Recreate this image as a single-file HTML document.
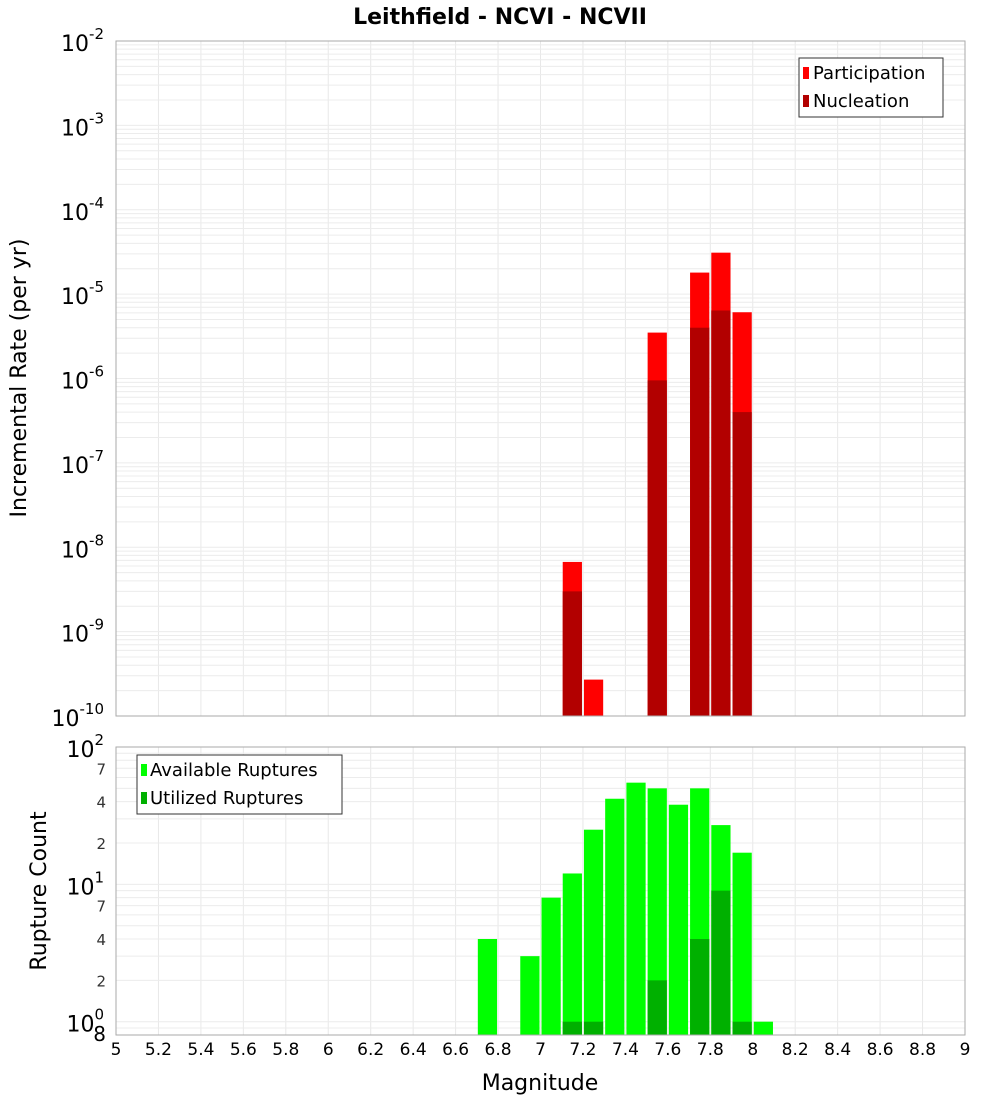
<!DOCTYPE html>
<html><head><meta charset="utf-8"><style>
body{margin:0;background:#fff;}
svg text{font-family:"DejaVu Sans","Liberation Sans",sans-serif;}
</style></head><body>
<svg id="c" xmlns="http://www.w3.org/2000/svg" width="1000" height="1100" viewBox="0 0 1000 1100"></svg>
<script>
const partMags=[7.1,7.2,7.5,7.7,7.8,7.9];
const partVals=[6.7e-9,2.7e-10,3.5e-6,1.8e-5,3.1e-5,6.1e-6];
const nuclMags=[7.1,7.5,7.7,7.8,7.9];
const nuclVals=[3e-9,9.5e-7,4e-6,6.4e-6,4e-7];
const availMags=[6.7,6.9,7.0,7.1,7.2,7.3,7.4,7.5,7.6,7.7,7.8,7.9,8.0];
const availVals=[4,3,8,12,25,42,55,50,38,50,27,17,1];
const utilMags=[7.1,7.2,7.5,7.7,7.8,7.9];
const utilVals=[1,1,2,4,9,1];
const xTicks=[5,5.2,5.4,5.6,5.8,6,6.2,6.4,6.6,6.8,7,7.2,7.4,7.6,7.8,8,8.2,8.4,8.6,8.8,9];

const svg=document.getElementById('c');
const NS='http://www.w3.org/2000/svg';
function el(t,a,p){const e=document.createElementNS(NS,t);for(const k in a)e.setAttribute(k,a[k]);(p||svg).appendChild(e);return e;}
const L=116,R=965;
const x=m=>L+(m-5)/4*(R-L);
const T1=41,B1=716;const y1=v=>T1+(-2-Math.log10(v))/8*(B1-T1);
const T2=747,B2=1035;const lo2=Math.log10(0.8);const y2=v=>T2+(2-Math.log10(v))/(2-lo2)*(B2-T2);

function grid(T,B,yf,lo,hi){
  for(const t of xTicks){const g=el('line',{x1:x(t),x2:x(t),y1:T,y2:B,stroke:'#e8e8e8'});}
  for(let d=lo;d<hi;d++)for(let k=1;k<10;k++){const v=k*Math.pow(10,d);const yy=yf(v);if(yy<T-0.5||yy>B+0.5)continue;
    const g=el('line',{x1:L,x2:R,y1:yy,y2:yy,stroke:'#ececec'});}
}
grid(T1,B1,y1,-10,-2);
grid(T2,B2,y2,-1,2);

function bars(mags,vals,yf,B,color,name){
  mags.forEach((m,i)=>{const yy=yf(vals[i]);const r=el('rect',{x:x(m)+1,y:yy,width:x(m+0.1)-x(m)-2,height:B-yy,fill:color});
    });
}
bars(partMags,partVals,y1,B1,'#ff0000','participation-bar');
bars(nuclMags,nuclVals,y1,B1,'#b20000','nucleation-bar');
bars(availMags,availVals,y2,B2,'#00ff00','available-ruptures-bar');
bars(utilMags,utilVals,y2,B2,'#00b000','utilized-ruptures-bar');

const f1=el('rect',{x:L,y:T1,width:R-L,height:B1-T1,fill:'none',stroke:'#aaa'});
const f2=el('rect',{x:L,y:T2,width:R-L,height:B2-T2,fill:'none',stroke:'#aaa'});

function txt(s,a,name){const t=el('text',a);t.textContent=s;return t;}
// top y ticks
for(let d=-2;d>=-10;d--){const yy=y1(Math.pow(10,d));
  const t=el('text',{x:104,y:yy+10,'text-anchor':'end','font-size':22});
  t.textContent='10';const s=el('tspan',{dy:-12,'font-size':15},t);s.textContent=String(d);}
// bottom y ticks
for(let d=2;d>=0;d--){const yy=y2(Math.pow(10,d));
  const t=el('text',{x:104,y:yy+10,'text-anchor':'end','font-size':22});
  t.textContent='10';const s=el('tspan',{dy:-12,'font-size':15},t);s.textContent=String(d);}
[[70,'7'],[40,'4'],[20,'2'],[7,'7'],[4,'4'],[2,'2'],[0.8,'8']].forEach(([v,s])=>{
  txt(s,{x:106,y:y2(v)+6,'text-anchor':'end','font-size':v<1?20:15,fill:v<1?'#000':'#333'},'y-minor-tick-label');});
xTicks.forEach(t=>txt(String(t),{x:x(t),y:1055,'text-anchor':'middle','font-size':17},'x-tick-label'));

txt('Leithfield - NCVI - NCVII',{x:500,y:24,'text-anchor':'middle','font-size':22,'font-weight':'bold'},'chart-title');
txt('Magnitude',{x:540,y:1090,'text-anchor':'middle','font-size':22},'x-axis-title');
txt('Incremental Rate (per yr)',{x:26,y:378,'text-anchor':'middle','font-size':22,transform:'rotate(-90 26 378)'},'y-axis-title-rate');
txt('Rupture Count',{x:46,y:891,'text-anchor':'middle','font-size':22,transform:'rotate(-90 46 891)'},'y-axis-title-count');

// legends
const lg1=el('rect',{x:799,y:58,width:144,height:59,fill:'#fff',stroke:'#333'});
[['Participation','#ff0000',73],['Nucleation','#b20000',101]].forEach(([s,c,yy])=>{
  const r=el('rect',{x:803,y:yy-6,width:6,height:12,fill:c});
  txt(s,{x:813,y:yy+6,'font-size':18},'legend-entry');});
const lg2=el('rect',{x:137,y:755,width:205,height:59,fill:'#fff',stroke:'#333'});
[['Available Ruptures','#00ff00',770],['Utilized Ruptures','#00b000',798]].forEach(([s,c,yy])=>{
  const r=el('rect',{x:141,y:yy-6,width:6,height:12,fill:c});
  txt(s,{x:150,y:yy+6,'font-size':18},'legend-entry');});
</script>
</body></html>
